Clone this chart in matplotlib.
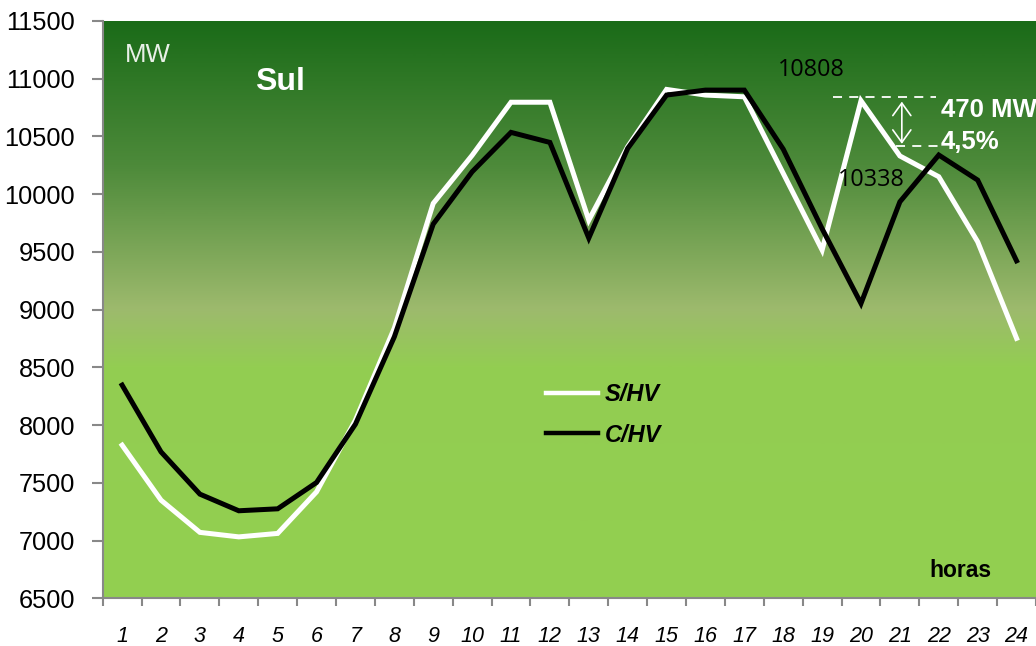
import matplotlib
matplotlib.use("Agg")
import matplotlib.pyplot as plt
import numpy as np
from matplotlib.colors import LinearSegmentedColormap

hours = list(range(1, 25))
hour_labels = [str(h) for h in hours]
s_hv = [7826, 7350, 7071, 7032, 7062, 7422, 8043, 8840, 9919, 10335, 10795, 10795,
        9774, 10410, 10906, 10857, 10842, 10179, 9515, 10808, 10330, 10150, 9587, 8751]
c_hv = [8346, 7768, 7402, 7258, 7275, 7503, 8008, 8764, 9740, 10193, 10534, 10447,
        9619, 10395, 10857, 10900, 10900, 10389, 9700, 9053, 9933, 10338, 10121, 9422]
series_names = ["S/HV", "C/HV"]
y_ticks = list(range(6500, 11501, 500))

plt.rcParams['font.family'] = ['Liberation Sans', 'DejaVu Sans']

fig = plt.figure(figsize=(10.36, 6.46), dpi=100)
ax = fig.add_axes([0.0991, 0.0738, 0.9009, 0.894])

# background gradient
cmap = LinearSegmentedColormap.from_list(
    "bg", [(0.0, "#1a6b18"), (0.25, "#4d8a3a"), (0.5, "#9dba6d"),
           (0.6, "#93cd52"), (1.0, "#92d050")])
grad = np.linspace(0, 1, 512).reshape(-1, 1)
ax.imshow(grad, cmap=cmap, aspect="auto", extent=[0, 1, 0, 1],
          transform=ax.transAxes, zorder=0, interpolation="bilinear")

ax.plot(hours, s_hv, color="white", lw=3.6, label=series_names[0], zorder=3,
        solid_joinstyle="miter")
ax.plot(hours, c_hv, color="black", lw=3.6, label=series_names[1], zorder=4,
        solid_joinstyle="miter")

ax.set_xlim(0.5, 24.5)
ax.set_ylim(6500, 11500)
ax.set_yticks(y_ticks)
ax.set_yticklabels([str(v) for v in y_ticks], fontsize=18.3)
ax.set_xticks(hours)
ax.set_xticklabels(hour_labels, fontsize=15.5, style="italic")
ax.set_xticks(np.arange(0.5, 25, 1), minor=True)
ax.tick_params(axis="x", which="major", length=0, pad=20)
ax.tick_params(axis="x", which="minor", length=6, width=1.5, color="#888888", direction="out")
ax.tick_params(axis="y", which="major", length=8, width=1.5, color="#888888", pad=12)

for s in ["top", "right"]:
    ax.spines[s].set_visible(False)
for s in ["left", "bottom"]:
    ax.spines[s].set_color("#888888")
    ax.spines[s].set_linewidth(1.5)

# texts
ax.text(1.08, 11203, "MW", color="white", fontsize=18.5, va="center", ha="left", alpha=0.9)
ax.text(4.42, 10969, "Sul", color="white", fontsize=23, fontweight="bold", va="center", ha="left")
ax.text(17.86, 11073, "10808", color="black", fontsize=16.8, va="center", ha="left",
        family=["Open Sans", "DejaVu Sans"])
ax.text(19.4, 10121, "10338", color="black", fontsize=16.8, va="center", ha="left",
        family=["Open Sans", "DejaVu Sans"])
ax.text(22.05, 10727, "470 MW", color="white", fontsize=18.5, fontweight="bold", va="center", ha="left")
ax.text(22.05, 10450, "4,5%", color="white", fontsize=18.5, fontweight="bold", va="center", ha="left")
ax.text(21.75, 6744, "horas", color="black", fontsize=16.5, fontweight="bold", va="center", ha="left")

# dashed reference lines and arrow
ax.plot([19.29, 21.92], [10842, 10842], color="white", lw=1.3, ls=(0, (5, 4)), zorder=5)
ax.plot([20.89, 22.05], [10415, 10415], color="white", lw=1.3, ls=(0, (5, 4)), zorder=5)
ax.annotate("", xy=(21.05, 10435), xytext=(21.05, 10800),
            arrowprops=dict(arrowstyle="<->,head_length=0.9,head_width=0.65",
                            color="white", lw=1.2, mutation_scale=10,
                            shrinkA=0, shrinkB=0), zorder=5)

leg = ax.legend(loc="center left", bbox_to_anchor=(0.475, 0.318), frameon=False,
                borderpad=0, borderaxespad=0, handlelength=2.2, handletextpad=0.3,
                labelspacing=0.75,
                prop=dict(size=17, weight="bold", style="italic"))
for line in leg.get_lines():
    line.set_linewidth(3.2)

fig.savefig("out.png", dpi=100)
